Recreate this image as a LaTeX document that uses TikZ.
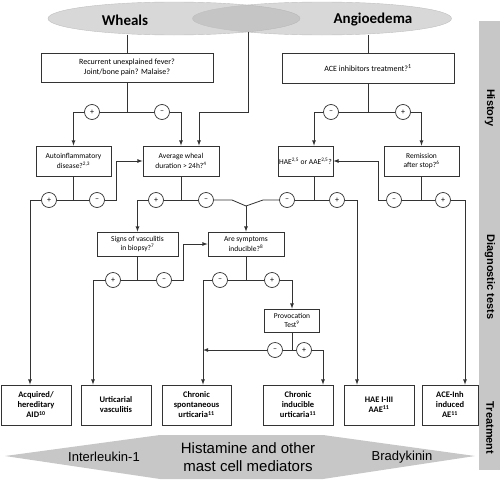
\documentclass[tikz,border=0pt]{standalone}
\usepackage{fontspec}
\setmainfont{Carlito}
\newfontfamily\arialfont{Liberation Sans}
\usetikzlibrary{arrows,calc,shapes.geometric}
\tikzset{
	frage/.style={draw=black!80, fill=white, line width=0.8pt, align=center, inner sep=1pt,
			font=\fontsize{8}{10}\selectfont},
	klein/.style={frage, font=\fontsize{7.5}{9.5}\selectfont},
	diagnose/.style={frage, minimum height=40pt, font=\bfseries\fontsize{8.5}{10}\selectfont},
	zeichen/.style={circle, draw=black!80, fill=white, line width=0.7pt, minimum size=15pt,
			inner sep=0pt, font=\fontsize{8}{8}\selectfont},
	blase/.style={ellipse, draw=black!25, fill=black!30, fill opacity=0.5, minimum height=33pt, inner sep=0pt},
	linie/.style={draw=black!80, line width=0.8pt},
	pfeil/.style={linie, -latex},
	phase/.style={rotate=-90, font=\arialfont\bfseries\fontsize{11}{11}\selectfont}
}

\begin{document}
\begin{tikzpicture}[x=1pt, y=-1pt]
        \useasboundingbox (0,0) rectangle (500,479);
        % Ellipsen zeichnen
        \node[blase, minimum width=252pt] (quaddel) at (174,18.5) {};
        \node[blase, minimum width=259pt] (angio) at (322,18.5) {};
        \node[font=\bfseries\fontsize{15}{15}\selectfont] (quaddeltext) at (125,20) {Wheals};
        \node[font=\bfseries\fontsize{15}{15}\selectfont] (angiotext) at (373,20) {Angioedema};
        % Phasen
        \fill[black!22] (479,21) rectangle (500,470);
        \node[phase] (anamnese) at (490,108) {History};
        \node[phase] (diagnostik) at (490,277) {Diagnostic tests};
        \node[phase] (therapie) at (490,428) {Treatment};
        % Mediatoren
        \fill[black!22] (5,456) -- (160,435) -- (323,435) -- (475,456) -- (323,479) -- (160,479) -- cycle;
        \node[font=\arialfont\fontsize{13}{13}\selectfont] (il) at (104,457) {Interleukin-1};
        \node[align=center, font=\arialfont\fontsize{15}{18}\selectfont] (histamin) at (248,457) {Histamine and other\\mast cell mediators};
        \node[font=\arialfont\fontsize{13}{13}\selectfont] (brady) at (402,457) {Bradykinin};
        % Fragen
        \node[frage, minimum width=172pt, minimum height=29pt] (fieber) at (127,67.5) {Recurrent unexplained fever?\\Joint/bone pain? Malaise?};
        \node[frage, minimum width=172pt, minimum height=30pt] (ace) at (368,68) {ACE inhibitors treatment?\textsuperscript{1}};
        \node[klein, minimum width=75pt, minimum height=30pt] (auto) at (73.5,161) {Autoinflammatory\\disease?\textsuperscript{2,3}};
        \node[klein, minimum width=76pt, minimum height=30pt] (dauer) at (181,161) {Average wheal\\duration > 24h?\textsuperscript{4}};
        \node[klein, minimum width=55pt, minimum height=30pt] (hae) at (305.5,161) {HAE\textsuperscript{2,5} or AAE\textsuperscript{2,5}?};
        \node[klein, minimum width=75pt, minimum height=30pt] (remission) at (421.5,161) {Remission\\after stop?\textsuperscript{6}};
        \node[klein, minimum width=81pt, minimum height=24pt] (biopsie) at (137.5,244) {Signs of vasculitis\\in biopsy?\textsuperscript{7}};
        \node[klein, minimum width=76pt, minimum height=24pt] (induz) at (246,244) {Are symptoms\\inducible?\textsuperscript{8}};
        \node[klein, minimum width=55pt, minimum height=23pt] (provo) at (292,320.5) {Provocation\\Test\textsuperscript{9}};
        % Diagnosen
        \node[diagnose, minimum width=70pt] (aid) at (36,405) {Acquired/\\hereditary\\AID\textsuperscript{10}};
        \node[diagnose, minimum width=70pt] (uv) at (116,405) {Urticarial\\vasculitis};
        \node[diagnose, minimum width=69pt] (csu) at (196.5,405) {Chronic\\spontaneous\\urticaria\textsuperscript{11}};
        \node[diagnose, minimum width=70pt] (ciu) at (298,405) {Chronic\\inducible\\urticaria\textsuperscript{11}};
        \node[diagnose, minimum width=70pt] (haeaae) at (379,405) {HAE I-III\\AAE\textsuperscript{11}};
        \node[diagnose, minimum width=56pt] (aceae) at (450,405) {ACE-Inh\\induced\\AE\textsuperscript{11}};
        % Plus und Minus
        \node[zeichen] (fieberja) at (92,112) {+};
        \node[zeichen] (fiebernein) at (162,112) {–};
        \node[zeichen] (acenein) at (331,112) {–};
        \node[zeichen] (aceja) at (403,112) {+};
        \node[zeichen] (autoja) at (49,200) {+};
        \node[zeichen] (autonein) at (97,200) {–};
        \node[zeichen] (dauerja) at (156,200) {+};
        \node[zeichen] (dauernein) at (206,200) {–};
        \node[zeichen] (haenein) at (287,200) {–};
        \node[zeichen] (haeja) at (337,200) {+};
        \node[zeichen] (remnein) at (394,200) {–};
        \node[zeichen] (remja) at (443,200) {+};
        \node[zeichen] (biopsieja) at (113,280) {+};
        \node[zeichen] (biopsienein) at (164,280) {–};
        \node[zeichen] (induznein) at (220,280) {–};
        \node[zeichen] (induzja) at (272,280) {+};
        \node[zeichen] (provonein) at (275,350) {–};
        \node[zeichen] (provoja) at (304,350) {+};
        % Hilfspunkte
        \coordinate (ueber) at (248,32);
        \coordinate (k0) at (199,112);
        \coordinate (k1) at (232,200);
        \coordinate (k2) at (263,200);
        \coordinate (gabel) at (246,206);
        \coordinate (haein) at ([xshift=8.5pt]hae.north);
        \coordinate (haeaus) at ([xshift=8.5pt]hae.south);
        \coordinate (csuin) at ([xshift=6.5pt]csu.north);
        % Anamnese
        \draw[linie] (fieber.north) -- (fieber.north |- quaddel.south);
        \draw[linie] (ace.north) -- (ace.north |- angio.south);
        \draw[linie] (fieberja) -- (fiebernein);
        \draw[linie] (fieber.south) -- (fieber.south |- fieberja);
        \draw[pfeil] (fieberja) -| (auto.north);
        \draw[pfeil] (fiebernein) -| (dauer.north);
        \draw[pfeil] (ueber) |- (k0) -- (k0 |- dauer.north);
        \draw[linie] (acenein) -- (aceja);
        \draw[linie] (ace.south) -- (ace.south |- aceja);
        \draw[pfeil] (acenein) -| (haein);
        \draw[pfeil] (aceja) -| (remission.north);
        % Diagnostik
        \draw[linie] (autoja) -- (autonein);
        \draw[linie] (auto.south) -- (auto.south |- autoja);
        \draw[pfeil] (autoja) -| ([xshift=-6pt]aid.north);
        \draw[pfeil] (autonein) -| ([xshift=-26pt]dauer.west) -- (dauer.west);
        \draw[linie] (dauerja) -- (dauernein);
        \draw[linie] (dauer.south) -- (dauer.south |- dauerja);
        \draw[pfeil] (dauerja) -| (biopsie.north);
        \draw[linie] (dauernein) -- (k1) -- (gabel) -- (k2) -- (haenein);
        \draw[pfeil] (gabel) -- (gabel |- induz.north);
        \draw[linie] (haenein) -- (haeja);
        \draw[linie] (haeaus) -- (haeaus |- haeja);
        \draw[pfeil] (haeja) -| ([xshift=-22pt]haeaae.north);
        \draw[linie] (remnein) -- (remja);
        \draw[linie] (remission.south) -- (remission.south |- remja);
        \draw[pfeil] (remnein) -| ([xshift=45pt]hae.east) -- (hae.east);
        \draw[pfeil] (remja) -| ([xshift=15pt]aceae.north);
        \draw[linie] (biopsieja) -- (biopsienein);
        \draw[linie] (biopsie.south) -- (biopsie.south |- biopsieja);
        \draw[pfeil] (biopsieja) -| ([xshift=-23pt]uv.north);
        \draw[pfeil] (biopsienein) -| ([xshift=-24pt]induz.west) -- (induz.west);
        \draw[linie] (induznein) -- (induzja);
        \draw[linie] (induz.south) -- (induz.south |- induzja);
        \draw[pfeil] (induznein) -| (csuin);
        \draw[pfeil] (induzja) -| (provo.north);
        \draw[linie] (provonein) -- (provoja);
        \draw[linie] (provo.south) -- (provo.south |- provoja);
        \draw[pfeil] (provoja) -| ([xshift=25pt]ciu.north);
        \draw[pfeil] (provonein) -- (csuin |- provonein);
    \end{tikzpicture}
\end{document}
